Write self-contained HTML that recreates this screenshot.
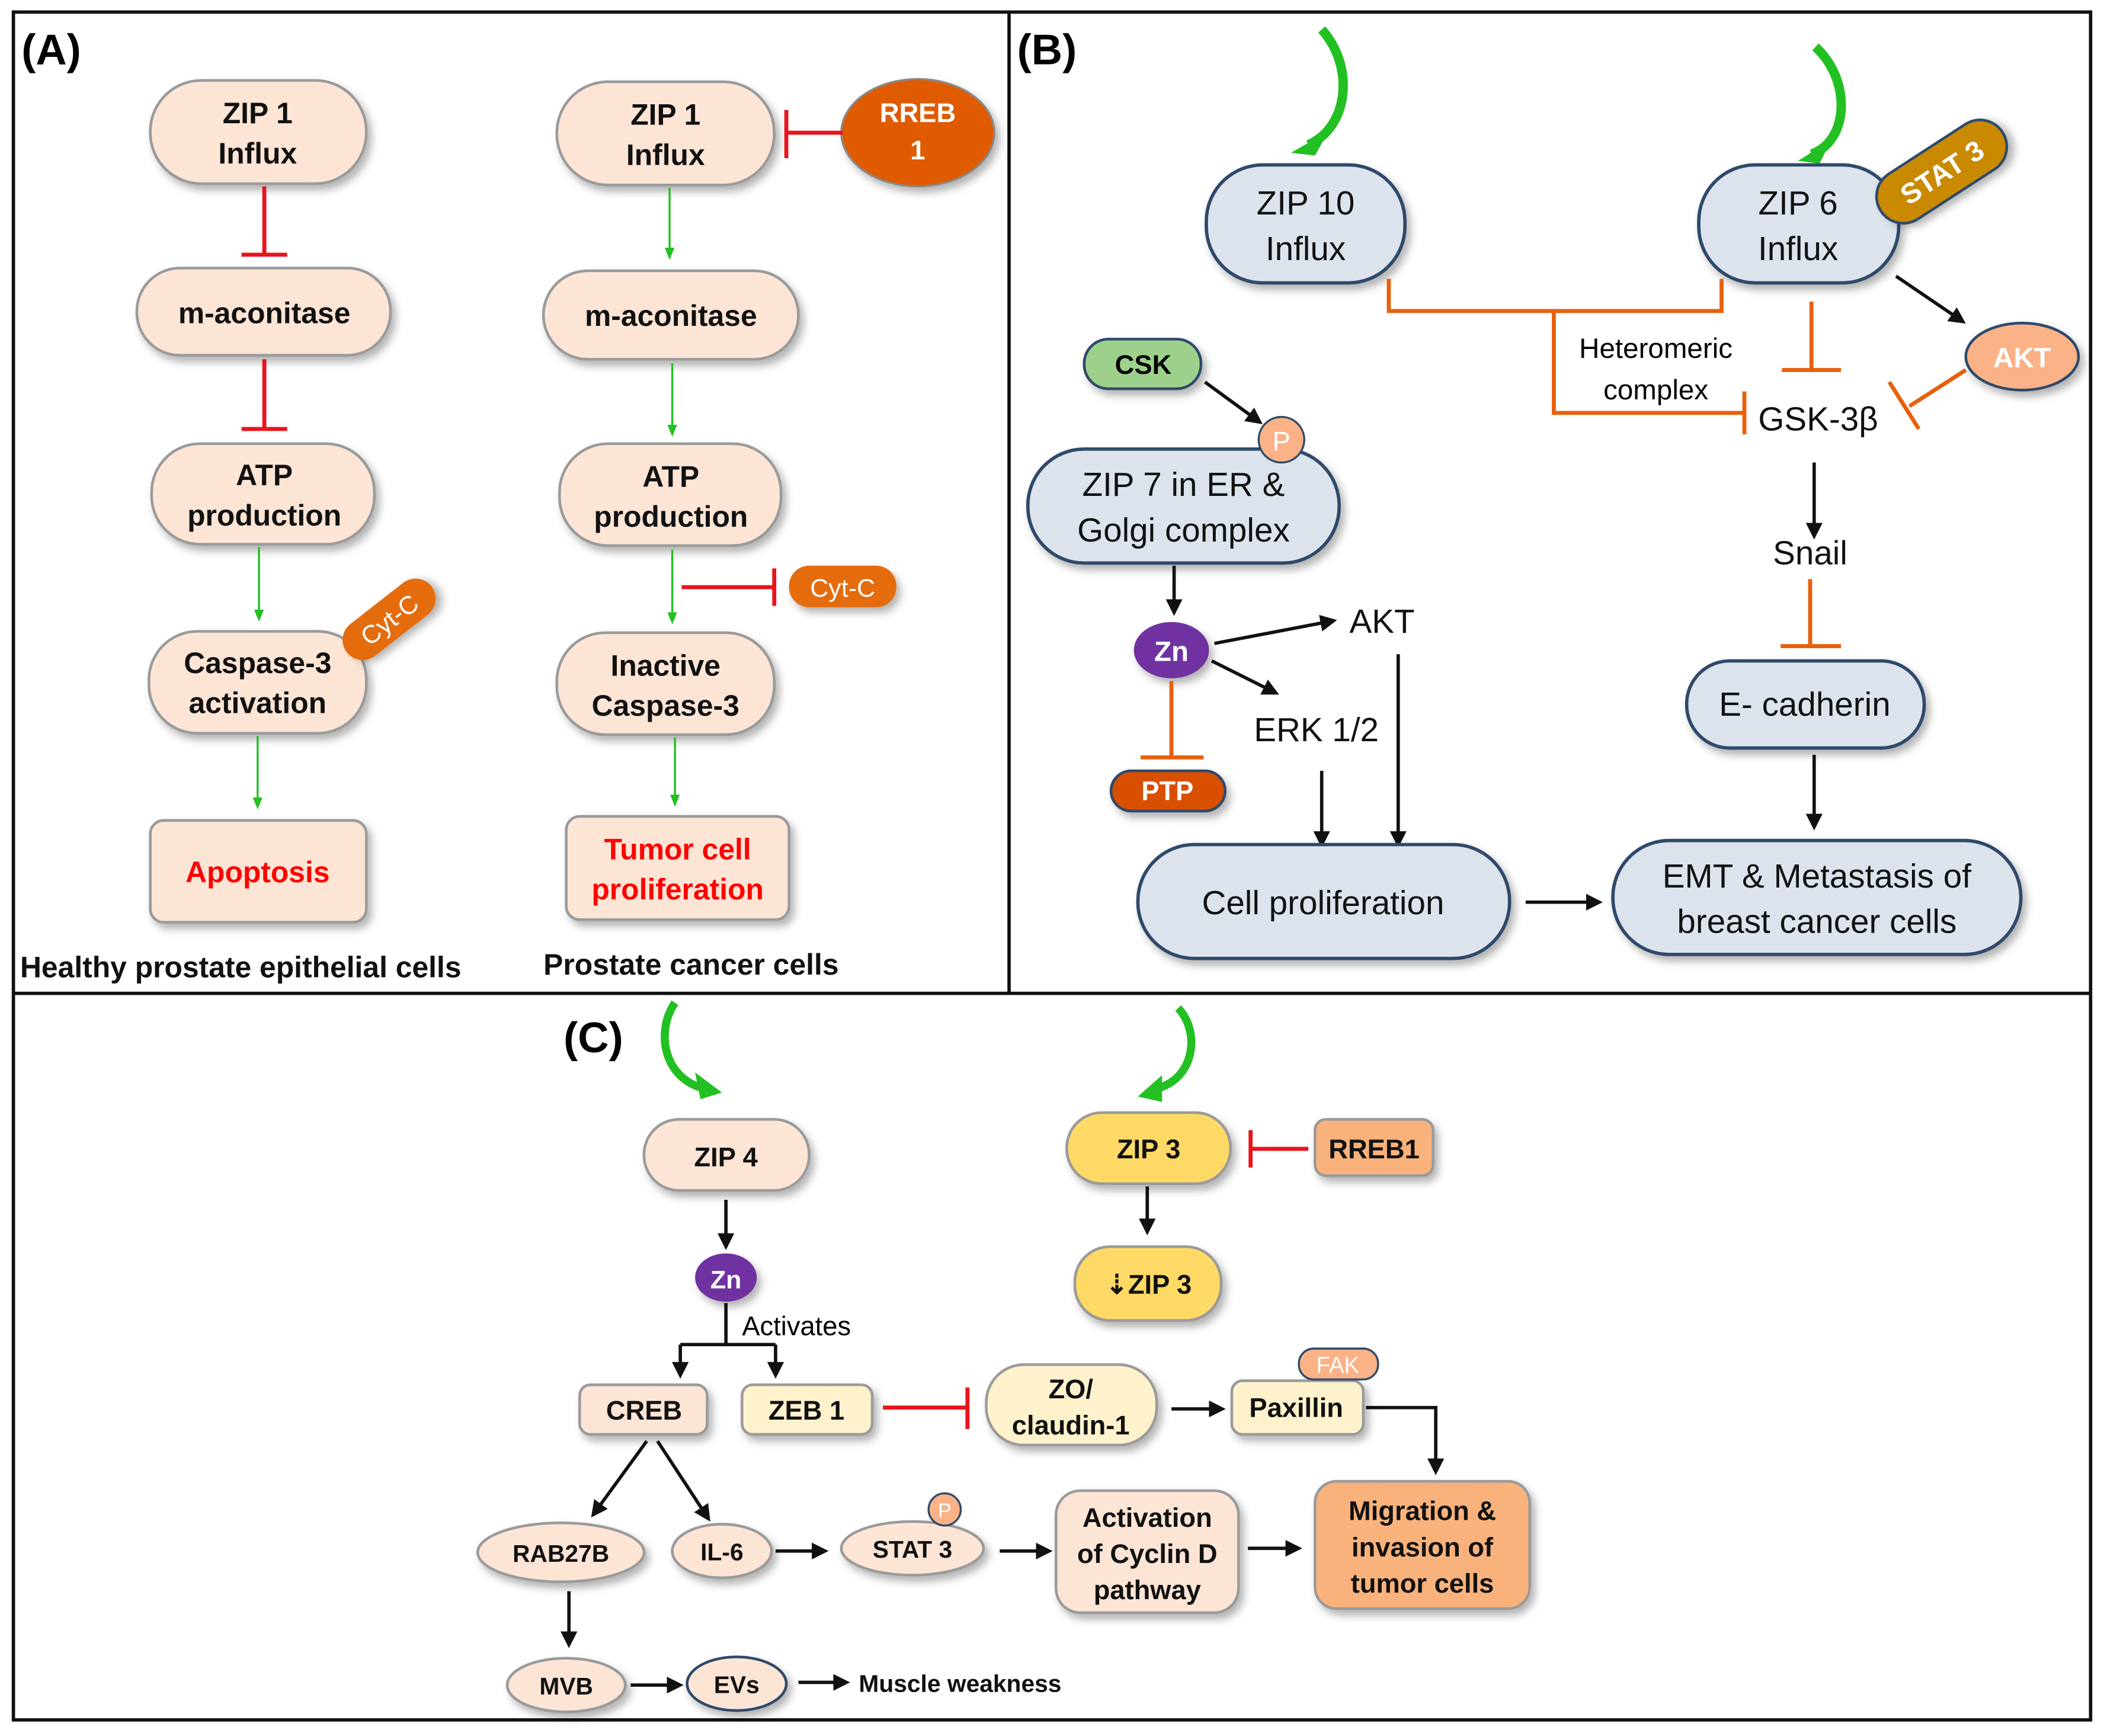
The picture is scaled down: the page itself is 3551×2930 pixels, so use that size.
<!DOCTYPE html>
<html><head><meta charset="utf-8"><style>
html,body{margin:0;padding:0;background:#fff;}
svg{display:block;}
text{font-family:"Liberation Sans Narrow","Liberation Sans",sans-serif;}
.b{font-weight:bold;font-size:22px;fill:#111;}
.n{font-size:25px;fill:#111;}
.pc{fill:#fde5d6;stroke:#9a9a9a;stroke-width:2;filter:url(#sh);}
.bl{fill:#dce3ec;stroke:#2e4a6b;stroke-width:2.5;filter:url(#sh);}
.bk{stroke:#111;stroke-width:2.5;fill:none;marker-end:url(#ah);}
.gr{stroke:#22c022;stroke-width:1.5;fill:none;marker-end:url(#ag);}
.rd{stroke:#e8141c;stroke-width:3;fill:none;}
.or{stroke:#e8600c;stroke-width:3;fill:none;}
</style></head><body>
<svg width="3551" height="2930" viewBox="0 0 1568 1295" preserveAspectRatio="none" xmlns="http://www.w3.org/2000/svg">
<defs>
<filter id="sh" x="-20%" y="-20%" width="150%" height="160%"><feDropShadow dx="3" dy="4" stdDeviation="3" flood-color="#000" flood-opacity="0.3"/></filter>
<marker id="ah" viewBox="0 0 10 10" refX="8" refY="5" markerWidth="5" markerHeight="5" orient="auto"><path d="M0,0L10,5L0,10z" fill="#111"/></marker>
<marker id="ag" viewBox="0 0 10 10" refX="8" refY="5" markerWidth="6" markerHeight="6" orient="auto"><path d="M0,1L10,5L0,9z" fill="#22c022"/></marker>
</defs>
<rect x="0" y="0" width="1568" height="1295" fill="#fff"/>
<!-- panel borders -->
<g stroke="#111" stroke-width="2.5" fill="none">
<rect x="10" y="9" width="1548" height="1274"/>
<line x1="752" y1="9" x2="752" y2="741"/>
<line x1="10" y1="741" x2="1558" y2="741"/>
</g>
<text x="16" y="48" style="font-family:'Liberation Sans',sans-serif;font-weight:bold;font-size:32px">(A)</text>
<text x="758" y="48" style="font-family:'Liberation Sans',sans-serif;font-weight:bold;font-size:32px">(B)</text>
<text x="420" y="785" style="font-family:'Liberation Sans',sans-serif;font-weight:bold;font-size:32px">(C)</text>

<!-- Panel A left -->
<rect class="pc" x="112" y="60" width="161" height="77" rx="38"/>
<text class="b" x="192" y="92" text-anchor="middle">ZIP 1</text><text class="b" x="192" y="122" text-anchor="middle">Influx</text>
<path class="rd" d="M197,139V190M180,190H214"/>
<rect class="pc" x="102" y="200" width="189" height="65" rx="32"/>
<text class="b" x="197" y="241" text-anchor="middle">m-aconitase</text>
<path class="rd" d="M197,268V320M180,320H214"/>
<rect class="pc" x="113" y="331" width="166" height="75" rx="36"/>
<text class="b" x="197" y="362" text-anchor="middle">ATP</text><text class="b" x="197" y="392" text-anchor="middle">production</text>
<path class="gr" d="M193,408V462"/>
<rect class="pc" x="111" y="471" width="162" height="76" rx="36"/>
<text class="b" x="192" y="502" text-anchor="middle">Caspase-3</text><text class="b" x="192" y="532" text-anchor="middle">activation</text>
<g transform="translate(290,462) rotate(-38)"><rect x="-40" y="-15" width="80" height="30" rx="15" fill="#e46c0a" filter="url(#sh)"/><text x="0" y="7" text-anchor="middle" style="font-size:19px;fill:#fff">Cyt-C</text></g>
<path class="gr" d="M192,549V602"/>
<rect class="pc" x="112" y="612" width="161" height="76" rx="10"/>
<text class="b" x="192" y="658" text-anchor="middle" style="fill:#f00">Apoptosis</text>
<text class="b" x="15" y="729">Healthy prostate epithelial cells</text>

<!-- Panel A right -->
<rect class="pc" x="415" y="61" width="162" height="77" rx="38"/>
<text class="b" x="496" y="93" text-anchor="middle">ZIP 1</text><text class="b" x="496" y="123" text-anchor="middle">Influx</text>
<ellipse cx="684" cy="99" rx="57" ry="40" fill="#e05a00" stroke="#888" stroke-width="1.5" filter="url(#sh)"/>
<text x="684" y="91" text-anchor="middle" style="font-weight:bold;font-size:20px;fill:#fff">RREB</text><text x="684" y="119" text-anchor="middle" style="font-weight:bold;font-size:20px;fill:#fff">1</text>
<path class="rd" d="M628,99H586M586,82V118"/>
<path class="gr" d="M499,140V192"/>
<rect class="pc" x="405" y="202" width="190" height="66" rx="33"/>
<text class="b" x="500" y="243" text-anchor="middle">m-aconitase</text>
<path class="gr" d="M501,271V324"/>
<rect class="pc" x="417" y="331" width="165" height="76" rx="36"/>
<text class="b" x="500" y="363" text-anchor="middle">ATP</text><text class="b" x="500" y="393" text-anchor="middle">production</text>
<path class="gr" d="M501,410V464"/>
<path class="rd" d="M508,438H576M577,424V452"/>
<rect x="588" y="422" width="80" height="31" rx="15" fill="#e46c0a" filter="url(#sh)"/>
<text x="628" y="445" text-anchor="middle" style="font-size:19px;fill:#fff">Cyt-C</text>
<rect class="pc" x="415" y="472" width="162" height="76" rx="36"/>
<text class="b" x="496" y="504" text-anchor="middle">Inactive</text><text class="b" x="496" y="534" text-anchor="middle">Caspase-3</text>
<path class="gr" d="M503,550V600"/>
<rect class="pc" x="422" y="609" width="166" height="77" rx="10"/>
<text class="b" x="505" y="641" text-anchor="middle" style="fill:#f00">Tumor cell</text><text class="b" x="505" y="671" text-anchor="middle" style="fill:#f00">proliferation</text>
<text class="b" x="405" y="727">Prostate cancer cells</text>

<!-- Panel B -->
<path d="M985,22 C1010,50 1005,95 975,108" stroke="#22c022" stroke-width="7" fill="none"/>
<path d="M962,114 L990,98 L980,116 Z" fill="#22c022"/>
<path d="M1353,35 C1380,60 1378,105 1350,115" stroke="#22c022" stroke-width="7" fill="none"/>
<path d="M1340,120 L1365,104 L1356,122 Z" fill="#22c022"/>
<rect class="bl" x="899" y="123" width="148" height="88" rx="42"/>
<text class="n" x="973" y="160" text-anchor="middle">ZIP 10</text><text class="n" x="973" y="194" text-anchor="middle">Influx</text>
<rect class="bl" x="1266" y="123" width="149" height="88" rx="42"/>
<text class="n" x="1340" y="160" text-anchor="middle">ZIP 6</text><text class="n" x="1340" y="194" text-anchor="middle">Influx</text>
<g transform="translate(1447,128) rotate(-33)"><rect x="-54" y="-20" width="108" height="40" rx="20" fill="#c98a00" stroke="#2e4a6b" stroke-width="2" filter="url(#sh)"/><text x="0" y="8" text-anchor="middle" style="font-weight:bold;font-size:21px;fill:#fff">STAT 3</text></g>
<path class="or" d="M1035,208V232H1283V208M1158,232V308H1300M1300,292V324"/>
<text x="1234" y="267" text-anchor="middle" style="font-size:21px">Heteromeric</text>
<text x="1234" y="298" text-anchor="middle" style="font-size:21px">complex</text>
<path class="or" d="M1350,225V276M1328,276H1372"/>
<path class="bk" d="M1413,206L1463,240"/>
<ellipse cx="1507" cy="266" rx="42" ry="25" fill="#fbb287" stroke="#2e4a6b" stroke-width="2" filter="url(#sh)"/>
<text x="1507" y="274" text-anchor="middle" style="font-size:21px;fill:#fff;font-weight:bold">AKT</text>
<path class="or" d="M1465,276L1423,303M1408,285L1430,320"/>
<text class="n" x="1355" y="321" text-anchor="middle">GSK-3β</text>
<path class="bk" d="M1352,345V400"/>
<text class="n" x="1349" y="421" text-anchor="middle">Snail</text>
<path class="or" d="M1349,432V482M1327,482H1372"/>
<rect class="bl" x="1257" y="493" width="177" height="65" rx="32"/>
<text class="n" x="1345" y="534" text-anchor="middle">E- cadherin</text>
<path class="bk" d="M1352,563V617"/>
<rect class="bl" x="1202" y="627" width="304" height="85" rx="42"/>
<text class="n" x="1354" y="662" text-anchor="middle">EMT &amp; Metastasis of</text><text class="n" x="1354" y="696" text-anchor="middle">breast cancer cells</text>
<rect x="808" y="253" width="87" height="37" rx="18" fill="#9dd18b" stroke="#2e4a6b" stroke-width="2" filter="url(#sh)"/>
<text x="852" y="279" text-anchor="middle" style="font-weight:bold;font-size:20px">CSK</text>
<path class="bk" d="M898,285L939,315"/>
<rect class="bl" x="766" y="335" width="232" height="85" rx="42"/>
<circle cx="955" cy="328" r="17" fill="#fbb287" stroke="#2e4a6b" stroke-width="1.5"/>
<text x="955" y="336" text-anchor="middle" style="font-size:20px;fill:#fff">P</text>
<text class="n" x="882" y="370" text-anchor="middle">ZIP 7 in ER &amp;</text><text class="n" x="882" y="404" text-anchor="middle">Golgi complex</text>
<path class="bk" d="M875,422V457"/>
<ellipse cx="873" cy="485" rx="28" ry="21" fill="#7030a0" filter="url(#sh)"/>
<text x="873" y="493" text-anchor="middle" style="font-weight:bold;font-size:21px;fill:#fff">Zn</text>
<path class="bk" d="M905,480L994,463"/>
<text class="n" x="1030" y="472" text-anchor="middle">AKT</text>
<path class="bk" d="M903,493L951,517"/>
<text class="n" x="981" y="553" text-anchor="middle">ERK 1/2</text>
<path class="or" d="M873,508V565M850,565H897"/>
<rect x="828" y="575" width="85" height="30" rx="15" fill="#d85000" stroke="#2e4a6b" stroke-width="2" filter="url(#sh)"/>
<text x="870" y="597" text-anchor="middle" style="font-weight:bold;font-size:20px;fill:#fff">PTP</text>
<path class="bk" d="M985,575V630"/>
<path class="bk" d="M1042,488V630"/>
<rect class="bl" x="848" y="630" width="277" height="85" rx="42"/>
<text class="n" x="986" y="682" text-anchor="middle">Cell proliferation</text>
<path class="bk" d="M1137,673H1192"/>

<!-- Panel C -->
<path d="M503,748 C488,770 495,805 525,812" stroke="#22c022" stroke-width="6" fill="none"/>
<path d="M538,815 L518,800 L522,820 Z" fill="#22c022"/>
<path d="M878,752 C895,770 890,805 862,812" stroke="#22c022" stroke-width="6" fill="none"/>
<path d="M848,818 L866,802 L866,822 Z" fill="#22c022"/>
<rect class="pc" x="480" y="835" width="123" height="53" rx="26"/>
<text class="b" x="541" y="870" text-anchor="middle" style="font-size:20px">ZIP 4</text>
<path class="bk" d="M541,895V930"/>
<ellipse cx="541" cy="953" rx="23" ry="18" fill="#7030a0" filter="url(#sh)"/>
<text x="541" y="961" text-anchor="middle" style="font-weight:bold;font-size:19px;fill:#fff">Zn</text>
<path d="M541,972V1003M507,1003H578" stroke="#111" stroke-width="2.5" fill="none"/>
<path class="bk" d="M507,1003V1026"/><path class="bk" d="M578,1003V1026"/>
<text x="553" y="996" style="font-size:20px">Activates</text>
<rect class="pc" x="432" y="1033" width="95" height="37" rx="8"/>
<text class="b" x="480" y="1059" text-anchor="middle" style="font-size:20px">CREB</text>
<rect x="553" y="1033" width="97" height="37" rx="8" fill="#fef2cc" stroke="#9a9a9a" stroke-width="2" filter="url(#sh)"/>
<text class="b" x="601" y="1059" text-anchor="middle" style="font-size:20px">ZEB 1</text>
<path class="rd" d="M658,1050H720M721,1035V1066"/>
<rect x="735" y="1018" width="127" height="60" rx="28" fill="#fef2cc" stroke="#9a9a9a" stroke-width="2" filter="url(#sh)"/>
<text class="b" x="798" y="1043" text-anchor="middle" style="font-size:20px">ZO/</text><text class="b" x="798" y="1070" text-anchor="middle" style="font-size:20px">claudin-1</text>
<path class="bk" d="M873,1051H911"/>
<rect x="918" y="1030" width="98" height="40" rx="8" fill="#fef2cc" stroke="#9a9a9a" stroke-width="2" filter="url(#sh)"/>
<rect x="968" y="1006" width="59" height="23" rx="11" fill="#fbb287" stroke="#2e4a6b" stroke-width="1.5"/>
<text x="997" y="1024" text-anchor="middle" style="font-size:17px;fill:#fff">FAK</text>
<text class="b" x="966" y="1057" text-anchor="middle" style="font-size:20px">Paxillin</text>
<path d="M1018,1050H1070V1098" stroke="#111" stroke-width="2.5" fill="none" marker-end="url(#ah)"/>
<rect x="980" y="1105" width="160" height="95" rx="16" fill="#f9b27c" stroke="#9a9a9a" stroke-width="2" filter="url(#sh)"/>
<text class="b" x="1060" y="1134" text-anchor="middle" style="font-size:20px">Migration &amp;</text>
<text class="b" x="1060" y="1161" text-anchor="middle" style="font-size:20px">invasion of</text>
<text class="b" x="1060" y="1188" text-anchor="middle" style="font-size:20px">tumor cells</text>
<path class="bk" d="M482,1075L442,1130"/><path class="bk" d="M490,1075L528,1133"/>
<ellipse class="pc" cx="418" cy="1158" rx="62" ry="22"/>
<text class="b" x="418" y="1165" text-anchor="middle" style="font-size:18px">RAB27B</text>
<ellipse class="pc" cx="538" cy="1157" rx="37" ry="20"/>
<text class="b" x="538" y="1164" text-anchor="middle" style="font-size:18px">IL-6</text>
<path class="bk" d="M578,1157H615"/>
<ellipse class="pc" cx="680" cy="1155" rx="53" ry="20"/>
<circle cx="704" cy="1126" r="12" fill="#fbb287" stroke="#2e4a6b" stroke-width="1.5"/>
<text x="704" y="1132" text-anchor="middle" style="font-size:15px;fill:#fff">P</text>
<text class="b" x="680" y="1162" text-anchor="middle" style="font-size:18px">STAT 3</text>
<path class="bk" d="M745,1157H782"/>
<rect class="pc" x="787" y="1112" width="136" height="91" rx="18"/>
<text class="b" x="855" y="1139" text-anchor="middle" style="font-size:20px">Activation</text>
<text class="b" x="855" y="1166" text-anchor="middle" style="font-size:20px">of Cyclin D</text>
<text class="b" x="855" y="1193" text-anchor="middle" style="font-size:20px">pathway</text>
<path class="bk" d="M930,1155H968"/>
<path class="bk" d="M424,1187V1227"/>
<ellipse class="pc" cx="422" cy="1257" rx="44" ry="20"/>
<text class="b" x="422" y="1264" text-anchor="middle" style="font-size:18px">MVB</text>
<path class="bk" d="M470,1257H507"/>
<ellipse cx="549" cy="1256" rx="37" ry="20" fill="#fde5d6" stroke="#2e4a6b" stroke-width="2" filter="url(#sh)"/>
<text class="b" x="549" y="1263" text-anchor="middle" style="font-size:18px">EVs</text>
<path class="bk" d="M595,1255H631"/>
<text class="b" x="640" y="1262" style="font-size:18px">Muscle weakness</text>
<rect x="795" y="830" width="122" height="53" rx="26" fill="#ffd966" stroke="#9a9a9a" stroke-width="2" filter="url(#sh)"/>
<text class="b" x="856" y="864" text-anchor="middle" style="font-size:20px">ZIP 3</text>
<path class="rd" d="M975,857H933M932,843V871"/>
<rect x="980" y="835" width="88" height="42" rx="8" fill="#f9b27c" stroke="#9a9a9a" stroke-width="2" filter="url(#sh)"/>
<text class="b" x="1024" y="864" text-anchor="middle" style="font-size:20px">RREB1</text>
<path class="bk" d="M855,885V919"/>
<rect x="801" y="930" width="109" height="55" rx="26" fill="#ffd966" stroke="#9a9a9a" stroke-width="2" filter="url(#sh)"/>
<text class="b" x="856" y="965" text-anchor="middle" style="font-size:20px">⇣ZIP 3</text>
</svg>
</body></html>
